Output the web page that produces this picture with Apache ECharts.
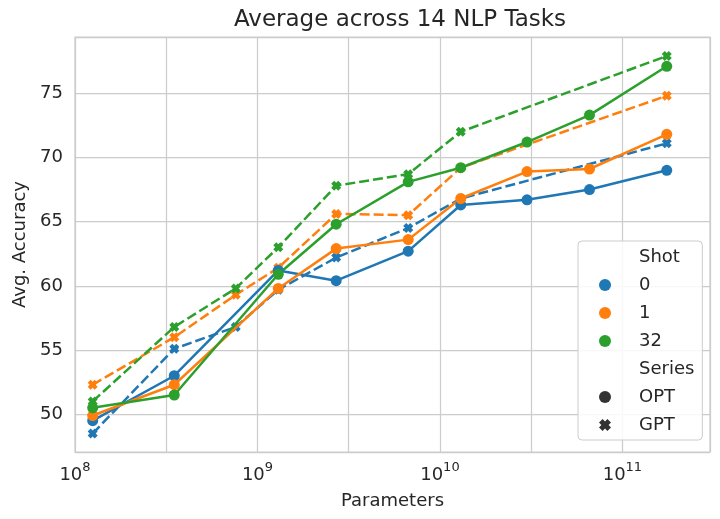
<!DOCTYPE html>
<html>
<head>
<meta charset="utf-8">
<script src="https://cdn.jsdelivr.net/npm/echarts@6/dist/echarts.min.js"></script>
<style>html,body{margin:0;padding:0;background:#fff}#c{width:720px;height:519px}</style>
</head>
<body>
<div id="c"></div>
<script>
const optParams = [125e6, 350e6, 1.3e9, 2.7e9, 6.7e9, 13e9, 30e9, 66e9, 175e9];
const gptParams = [125e6, 350e6, 760e6, 1.3e9, 2.7e9, 6.7e9, 13e9, 175e9];
const opt0  = [49.5, 53.0, 61.2, 60.4, 62.7, 66.3, 66.7, 67.5, 69.0];
const opt1  = [49.9, 52.3, 59.8, 62.9, 63.6, 66.8, 68.9, 69.1, 71.8];
const opt32 = [50.5, 51.5, 60.9, 64.8, 68.1, 69.2, 71.2, 73.3, 77.1];
const gpt0  = [48.5, 55.1, 56.8, 59.7, 62.2, 64.5, 66.8, 71.1];
const gpt1  = [52.3, 56.0, 59.3, 61.4, 65.6, 65.5, 69.2, 74.8];
const gpt32 = [51.0, 56.8, 59.8, 63.0, 67.8, 68.7, 72.0, 77.9];
const shots = ['0', '1', '32'];
const xExponents = [8, 9, 10, 11];

const colors = ['#1f77b4', '#ff7f0e', '#2ca02c'];
const dark = '#333333';
const textColor = '#262626';
const font = 'DejaVu Sans';
const crossPath = 'path://M0,3 L3,0 L5,2 L7,0 L10,3 L8,5 L10,7 L7,10 L5,8 L3,10 L0,7 L2,5 Z';

function pairs(xs, ys) { return xs.map((x, i) => [Math.log10(x), ys[i]]); }

const optSets = [opt0, opt1, opt32];
const gptSets = [gpt0, gpt1, gpt32];
const series = [];
shots.forEach((s, i) => {
  series.push({
    name: 'GPT ' + s, type: 'line', data: pairs(gptParams, gptSets[i]),
    symbol: crossPath, symbolSize: 10, color: colors[i],
    lineStyle: {width: 2.5, type: [10, 4], color: colors[i]},
    itemStyle: {color: colors[i]}, z: 2
  });
});
shots.forEach((s, i) => {
  series.push({
    name: 'OPT ' + s, type: 'line', data: pairs(optParams, optSets[i]),
    symbol: 'circle', symbolSize: 11, color: colors[i],
    lineStyle: {width: 2.5, color: colors[i]},
    itemStyle: {color: colors[i]}, z: 3
  });
});
const legendEntries = [
  {name: 'Shot', color: 'rgba(0,0,0,0)', icon: 'circle'},
  {name: '0', color: colors[0], icon: 'circle'},
  {name: '1', color: colors[1], icon: 'circle'},
  {name: '32', color: colors[2], icon: 'circle'},
  {name: 'Series', color: 'rgba(0,0,0,0)', icon: 'circle'},
  {name: 'OPT', color: dark, icon: 'circle'},
  {name: 'GPT', color: dark, icon: crossPath}
];
legendEntries.forEach(e => {
  series.push({name: e.name, type: 'scatter', data: [], color: e.color, itemStyle: {color: e.color, opacity: 1}});
});

const chart = echarts.init(document.getElementById('c'), null, {renderer: 'canvas'});
chart.setOption({
  backgroundColor: '#ffffff',
  animation: false,
  textStyle: {fontFamily: font, color: textColor},
  title: {
    text: 'Average across 14 NLP Tasks', left: 395, top: 4, textAlign: 'center',
    textStyle: {fontFamily: font, fontSize: 23, fontWeight: 'normal', color: textColor}
  },
  grid: {left: 75, right: 10, top: 37, bottom: 67, show: true, borderColor: '#cccccc', borderWidth: 1.25, backgroundColor: '#fff'},
  xAxis: {
    type: 'value', min: 8, max: 11.48, interval: 0.5,
    name: 'Parameters', nameLocation: 'middle', nameGap: 40,
    nameTextStyle: {fontFamily: font, fontSize: 18, color: textColor},
    axisLine: {show: false}, axisTick: {show: false},
    splitLine: {show: true, lineStyle: {color: '#cccccc', width: 1.25}},
    axisLabel: {
      margin: 9, showMaxLabel: false,
      formatter: v => (Math.abs(v - Math.round(v)) < 1e-6 && xExponents.includes(Math.round(v))) ? '{b|10}{s|' + Math.round(v) + '}' : '',
      rich: {
        b: {fontFamily: font, fontSize: 18, color: textColor, lineHeight: 28},
        s: {fontFamily: font, fontSize: 13, color: textColor, lineHeight: 12, verticalAlign: 'top'}
      }
    }
  },
  yAxis: {
    type: 'value', min: 47.06, max: 79.38, splitNumber: 6,
    name: 'Avg. Accuracy', nameLocation: 'middle', nameGap: 44,
    nameTextStyle: {fontFamily: font, fontSize: 18, color: textColor},
    axisLine: {show: false}, axisTick: {show: false},
    splitLine: {show: true, lineStyle: {color: '#cccccc', width: 1.25}},
    axisLabel: {
      margin: 12, fontFamily: font, fontSize: 18, color: textColor,
      formatter: v => (Math.abs(v / 5 - Math.round(v / 5)) < 1e-6) ? String(v) : ''
    }
  },
  legend: {
    orient: 'vertical', left: 578, top: 241,
    padding: [5, 8, 4, 21],
    itemWidth: 40, itemHeight: 12, itemGap: 6,
    selectedMode: false,
    backgroundColor: 'rgba(255,255,255,0.85)', borderColor: '#cccccc', borderWidth: 1, borderRadius: 4,
    formatter: name => '{t|' + name + '}',
    textStyle: {
      fontFamily: font, fontSize: 18, color: textColor, lineHeight: 22,
      rich: {t: {fontFamily: font, fontSize: 18, color: textColor, lineHeight: 22, padding: [0, 0, 0, 9]}}
    },
    data: legendEntries.map(e => ({name: e.name, icon: e.icon}))
  },
  series: series
});
</script>
</body>
</html>
